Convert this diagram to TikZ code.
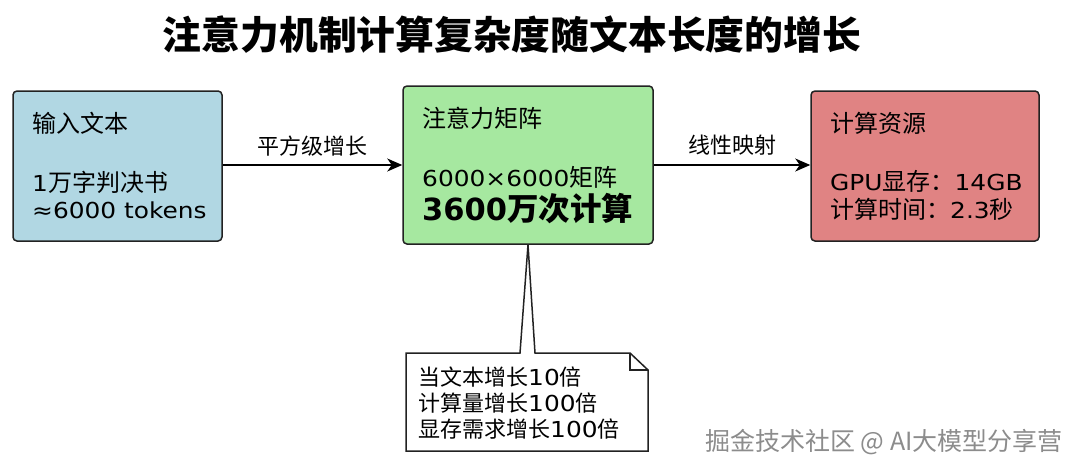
\documentclass[tikz,border=0pt]{standalone}
\usepackage{fontspec}
\setmainfont{DejaVu Sans}[FakeStretch=1.13]
\newfontfamily\cjk{Noto Sans CJK SC}
\newfontfamily\boldlat{DejaVu Sans}
\newcommand\zh[1]{{\cjk\fontsize{24}{28}\selectfont #1}}
\newcommand\zs[1]{{\cjk #1}}
\usetikzlibrary{arrows.meta}
\definecolor{boxblue}{HTML}{B1D7E3}
\definecolor{boxgreen}{HTML}{A6E8A0}
\definecolor{boxred}{HTML}{E08383}
\definecolor{edge}{HTML}{222222}
\tikzset{
  box/.style={draw=edge, line width=1.5pt, rounded corners=4pt, inner sep=0pt},
  txt/.style={anchor=west, inner sep=0pt, font=\fontsize{22}{26}\selectfont},
  lbl/.style={inner sep=0pt, font=\fontsize{22}{26}\selectfont},
  arr/.style={draw=black, line width=1.5pt, -{Stealth[length=15pt,width=13pt,inset=4.5pt]}},
}
\begin{document}
\begin{tikzpicture}[x=1pt,y=-1pt]
\useasboundingbox[fill=white] (0,0) rectangle (1080,474);
% title
\node[inner sep=0pt, font=\fontsize{38.8}{44}\selectfont\cjk\bfseries] (title) at (512,35) {注意力机制计算复杂度随文本长度的增长};
% boxes
\node[box, fill=boxblue, minimum width=209pt, minimum height=150pt] (input) at (117.5,166) {};
\node[box, fill=boxgreen, minimum width=250pt, minimum height=158pt] (matrix) at (528,165) {};
\node[box, fill=boxred, minimum width=228pt, minimum height=150pt] (res) at (925,166) {};
% box texts
\node[txt] (i1) at (32,123) {\zh{输入文本}};
\node[txt] (i2) at (32,182) {1\zh{万字判决书}};
\node[txt] (i3) at (32,210) {≈6000 tokens};
\node[txt] (m1) at (422,118) {\zh{注意力矩阵}};
\node[txt] (m2) at (422,177) {6000×6000\zh{矩阵}};
\node[txt] (m3) at (422,209) {{\boldlat\bfseries\fontsize{30.5}{34}\selectfont 3600}{\cjk\bfseries\fontsize{31.5}{34}\selectfont 万次计算}};
\node[txt] (r1) at (830,123) {\zh{计算资源}};
\node[txt] (r2) at (830,181) {GPU\zh{显存：}14GB};
\node[txt] (r3) at (830,209) {\zh{计算时间：}2.3\zh{秒}};
% connectors
\draw[arr] (input.east |- 0,165) -- (matrix.west |- 0,165);
\draw[arr] (matrix.east |- 0,165) -- (res.west |- 0,165);
\node[lbl] (a1) at (312,146) {\zs{平方级增长}};
\node[lbl] (a2) at (732,145) {\zs{线性映射}};
% callout note
\coordinate (tip) at (matrix.south);
\draw[edge, line width=1.5pt, fill=white, line join=miter]
  (406,353) -- (520,353) -- (tip) -- (535,353) -- (630,353) -- (648,370) -- (648,451) -- (406,451) -- cycle;
\draw[edge, line width=1.2pt] (630,353) -- (630,370) -- (648,370);
\node[txt] (n1) at (418,377) {\zs{当文本增长}10\zs{倍}};
\node[txt] (n2) at (418,403) {\zs{计算量增长}100\zs{倍}};
\node[txt] (n3) at (418,429) {\zs{显存需求增长}100\zs{倍}};
% watermark
\node[inner sep=0pt, anchor=west, text=black!45, font=\fontsize{25}{28}\selectfont\cjk] (wm) at (705,442) {掘金技术社区 @ AI大模型分享营};
\end{tikzpicture}
\end{document}
